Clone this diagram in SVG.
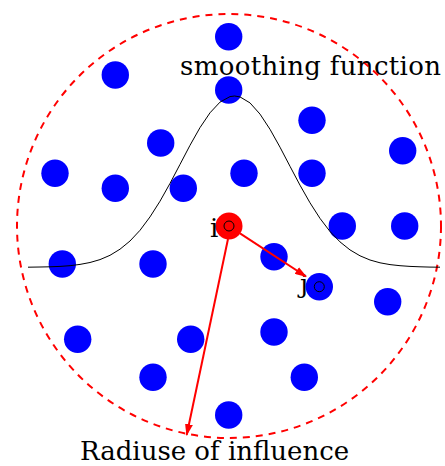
<svg xmlns="http://www.w3.org/2000/svg" width="445" height="466" viewBox="0 0 445 466">
<style>
.p{fill:#0000ff}
.t{font-family:"DejaVu Serif","Liberation Serif",serif;font-size:26px;fill:#000}
.r{stroke:#ff0000;stroke-width:2;fill:none}
.m{fill:none;stroke:#000;stroke-width:1}
</style>
<defs>
<marker id="ah" markerWidth="12" markerHeight="8" refX="11" refY="4" orient="auto" markerUnits="userSpaceOnUse">
<path d="M0,0 L12,4 L0,8 Z" fill="#ff0000"/>
</marker>
</defs>
<rect width="445" height="466" fill="#fff"/>
<g id="influence-circle">
<circle cx="229" cy="226" r="212" class="r" stroke-dasharray="7,6"/>
</g>
<g id="particles">
<circle class="p" cx="228.7" cy="36.7" r="13.7"/>
<circle class="p" cx="115.3" cy="75" r="13.7"/>
<circle class="p" cx="228.7" cy="90" r="13.7"/>
<circle class="p" cx="312" cy="120.3" r="13.7"/>
<circle class="p" cx="160.7" cy="143" r="13.7"/>
<circle class="p" cx="402.7" cy="150.7" r="13.7"/>
<circle class="p" cx="55" cy="173.3" r="13.7"/>
<circle class="p" cx="115.3" cy="188.3" r="13.7"/>
<circle class="p" cx="183.3" cy="188.3" r="13.7"/>
<circle class="p" cx="244" cy="173.3" r="13.7"/>
<circle class="p" cx="312" cy="173.3" r="13.7"/>
<circle class="p" cx="342.3" cy="226" r="13.7"/>
<circle class="p" cx="404.7" cy="226" r="13.7"/>
<circle class="p" cx="62.3" cy="264" r="13.7"/>
<circle class="p" cx="153" cy="264" r="13.7"/>
<circle class="p" cx="274" cy="256.7" r="13.7"/>
<circle class="p" cx="387.7" cy="301.7" r="13.7"/>
<circle class="p" cx="77.7" cy="339.3" r="13.7"/>
<circle class="p" cx="190.7" cy="339.3" r="13.7"/>
<circle class="p" cx="274" cy="332" r="13.7"/>
<circle class="p" cx="153" cy="377.3" r="13.7"/>
<circle class="p" cx="304.3" cy="377.3" r="13.7"/>
<circle class="p" cx="228.7" cy="415" r="13.7"/>
</g>
<g id="smoothing-curve">
<path class="m" d="M28,267.2 L40,267.0 L50,266.8 L60,266.4 L70,265.7 L80,264.4 L90,262.5 L100,259.6 L110,255.3 L120,249.2 L130,241.0 L140,230.3 L150,216.9 L160,201.2 L170,183.4 L180,164.4 L190,145.3 L200,127.6 L210,112.8 L220,102.1 L230,96.6 L234.5,96.0 L240,96.9 L250,102.9 L260,114.1 L270,129.3 L280,147.2 L290,166.3 L300,185.2 L310,202.8 L320,218.4 L330,231.5 L340,241.9 L350,249.9 L360,255.8 L370,260.0 L380,262.8 L390,264.6 L400,265.7 L410,266.4 L420,266.8 L430,267.1 L440,267.2"/>
</g>
<g id="particle-j">
<circle class="p" cx="319.3" cy="286.7" r="13.7"/>
<circle class="m" cx="319.3" cy="286.7" r="5"/>
<text class="t" x="300" y="293">j</text>
</g>
<g id="particle-i">
<circle cx="229" cy="226" r="13.5" fill="#ff0000"/>
<circle class="m" cx="229" cy="226" r="5"/>
<text class="t" x="210" y="237">i</text>
</g>
<g id="connectors">
<line class="r" x1="240" y1="233.3" x2="306" y2="276.5" marker-end="url(#ah)"/>
<line class="r" x1="228" y1="239" x2="186.7" y2="435" marker-end="url(#ah)"/>
</g>
<g id="labels">
<text class="t" x="180" y="75" textLength="261" lengthAdjust="spacing">smoothing function</text>
<text class="t" x="80" y="460">Radiuse of influence</text>
</g>
</svg>
